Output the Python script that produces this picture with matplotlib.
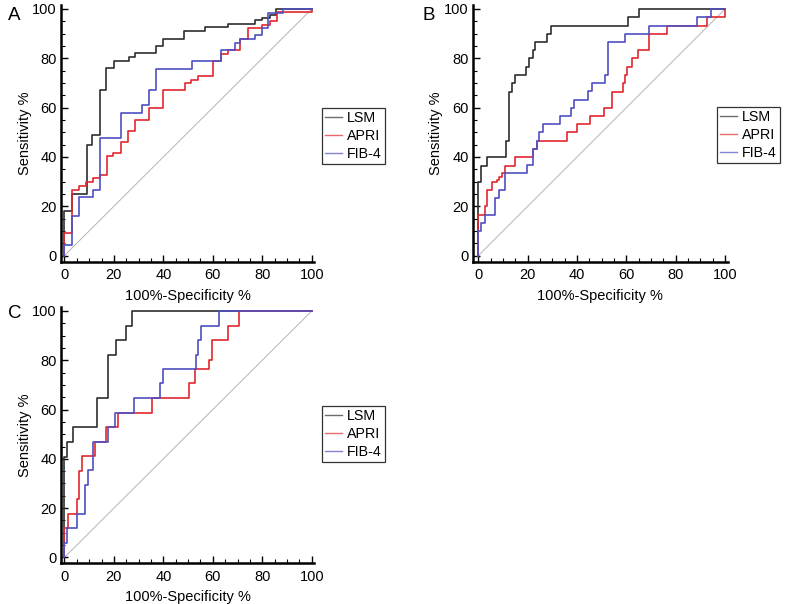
import matplotlib
matplotlib.use("Agg")
import matplotlib.pyplot as plt
from matplotlib.ticker import MultipleLocator

plt.rcParams['font.family'] = ['Liberation Sans', 'DejaVu Sans']

series_names = ["LSM", "APRI", "FIB-4"]
series_colors = ["#2e2e2e", "#e0282e", "#4f4fc2"]
tick_values = [0, 20, 40, 60, 80, 100]
x_label = "100%-Specificity %"
y_label = "Sensitivity %"

# Panel A (fpr, tpr) step points (steps-post)
a_lsm_fpr = [0, 0, 3, 9, 11, 14.5, 17, 20, 26, 28.5, 37, 40, 48.5, 57, 66, 77, 80, 83, 85.5, 100]
a_lsm_tpr = [0, 18, 25, 45, 49, 67, 76, 79, 80.5, 82, 85, 88, 91, 92.5, 94, 95.5, 96.5, 97.5, 100, 100]
a_apri_fpr = [0, 0, 3, 5.7, 8.8, 11.5, 14.4, 17.1, 19.8, 22.8, 25.6, 28.6, 34.2, 40, 48.8, 51, 54, 60.2, 63.2, 66, 71, 74.4, 80, 83, 86, 100]
a_apri_tpr = [0, 9, 26.6, 28.2, 30, 31.4, 32.7, 40.5, 41.8, 46, 50.4, 55, 59.7, 67.2, 70, 71.3, 72.8, 79, 81.8, 83.4, 87.7, 92.2, 93.7, 95.3, 98.6, 100]
a_fib4_fpr = [0, 0, 3, 5.7, 11.5, 14.4, 22.8, 31.3, 34.2, 37, 51.5, 63.2, 69, 71, 77, 79.8, 82.5, 88.5, 100]
a_fib4_tpr = [0, 4.3, 16.2, 23.6, 26.6, 47.6, 58, 61, 67.2, 75.8, 79, 83.4, 86.4, 87.7, 89.5, 92.2, 98.2, 100, 100]

# Panel B
b_lsm_fpr = [0, 0, 1.1, 3.6, 11.1, 12.4, 13.5, 14.9, 19.3, 20.7, 22, 23, 27.7, 29.3, 60.8, 65.3, 100]
b_lsm_tpr = [0, 30, 36.5, 40, 46.5, 66.5, 70, 73.2, 76.6, 80, 83.4, 86.5, 89.7, 93.1, 96.6, 100, 100]
b_apri_fpr = [0, 0, 2.7, 3.6, 5.4, 7.4, 8.5, 9.5, 10.8, 14.9, 22.3, 23.6, 35.8, 39.9, 45.3, 51, 54, 58.5, 59.3, 60.1, 62.2, 64.9, 69.3, 76.4, 92.8, 100]
b_apri_tpr = [0, 16.5, 20, 26.6, 29.7, 30.8, 32, 33.3, 36.5, 40, 43.3, 46.5, 50, 53.2, 56.6, 60, 66.5, 70, 73.3, 76.6, 80, 83.2, 89.7, 93, 96.6, 100]
b_fib4_fpr = [0, 0, 1.1, 2.7, 6.8, 8.4, 10.8, 19.6, 22, 23.6, 24.7, 26.1, 33.1, 37.4, 38.8, 44.3, 45.9, 51.4, 52.7, 59.5, 69.3, 88.5, 94.2, 100]
b_fib4_tpr = [0, 10, 13.3, 16.5, 23.3, 26.6, 33.3, 36.6, 43.3, 46.5, 50, 53.2, 56.6, 60, 63.2, 66.6, 70, 73.2, 86.5, 89.7, 93, 96.6, 100, 100]

# Panel C
c_lsm_fpr = [0, 0, 0.9, 3.4, 13.1, 17.8, 20.9, 24.9, 27.2, 100]
c_lsm_tpr = [0, 40.6, 47, 52.9, 64.7, 82.3, 88.2, 94.1, 100, 100]
c_apri_fpr = [0, 0, 1.6, 5, 5.9, 7, 12.4, 16.8, 21.8, 35.3, 50.5, 52.8, 58.5, 59.8, 66, 70.4, 100]
c_apri_tpr = [0, 11.8, 17.6, 23.5, 35.2, 41.2, 47, 52.9, 58.8, 64.7, 70.6, 76.4, 80, 88.2, 94.1, 100, 100]
c_fib4_fpr = [0, 0, 0.9, 5, 8.4, 9.4, 11.7, 17.8, 20.5, 28.3, 38.7, 40, 53.2, 54.2, 55.1, 62.3, 100]
c_fib4_tpr = [0, 5.9, 11.8, 17.6, 29.4, 35.3, 47, 52.9, 58.8, 64.7, 70.6, 76.4, 82.3, 88.2, 94.1, 100, 100]

panels = [
    ("A", [(a_lsm_fpr, a_lsm_tpr), (a_apri_fpr, a_apri_tpr), (a_fib4_fpr, a_fib4_tpr)]),
    ("B", [(b_lsm_fpr, b_lsm_tpr), (b_apri_fpr, b_apri_tpr), (b_fib4_fpr, b_fib4_tpr)]),
    ("C", [(c_lsm_fpr, c_lsm_tpr), (c_apri_fpr, c_apri_tpr), (c_fib4_fpr, c_fib4_tpr)]),
]

W, H = 788, 604
fig = plt.figure(figsize=(W / 100, H / 100), dpi=100)

# axes boxes in pixels: (left, top, right, bottom), xlim, ylim
boxes = {
    "A": ((61, 5.3, 314.2, 262), (-1.4, 101), (-2.6, 101.5)),
    "B": ((472.7, 5.3, 727.5, 262), (-2.3, 101), (-2.6, 101.5)),
    "C": ((61, 307.3, 314.2, 563.3), (-1.4, 101), (-2.4, 101.5)),
}
legend_pos = {"A": (322, 108), "B": (717, 107), "C": (322, 406)}
letter_pos = {"A": (8, 15), "B": (422, 15), "C": (8, 313)}

for name, curves in panels:
    (l, t, r, b), xl, yl = boxes[name]
    ax = fig.add_axes([l / W, 1 - b / H, (r - l) / W, (b - t) / H])
    ax.plot([0, 100], [0, 100], color="#b4b4b4", lw=0.7, zorder=1)
    handles = []
    for (fx, ty), lab, col in zip(curves, series_names, series_colors):
        h, = ax.plot(fx, ty, drawstyle="steps-post", color=col, lw=1.2, label=lab, zorder=3)
        handles.append(h)
    ax.set_xlim(*xl)
    ax.set_ylim(*yl)
    for s in ("top", "right"):
        ax.spines[s].set_visible(False)
    for s in ("left", "bottom"):
        ax.spines[s].set_linewidth(1.8)
    ax.set_xticks(tick_values)
    ax.set_yticks(tick_values)
    ax.xaxis.set_minor_locator(MultipleLocator(5))
    ax.yaxis.set_minor_locator(MultipleLocator(5))
    ax.tick_params(which="major", direction="in", length=5, width=1.0, labelsize=10.5)
    ax.tick_params(axis="x", which="major", pad=4.5)
    ax.tick_params(axis="y", which="major", pad=3)
    ax.tick_params(which="minor", direction="in", length=3, width=0.8)
    ax.set_xlabel(x_label, fontsize=10.5, labelpad=5)
    ax.set_ylabel(y_label, fontsize=10.5, labelpad=0.5)
    lx, ly = legend_pos[name]
    leg = ax.legend(handles=handles, loc="upper left", bbox_to_anchor=(lx / W, 1 - ly / H),
                    bbox_transform=fig.transFigure, fancybox=False, frameon=True,
                    fontsize=10.3, handlelength=1.2, handletextpad=0.3, labelspacing=0.28,
                    borderpad=0.22, borderaxespad=0)
    leg.get_frame().set_edgecolor("black")
    leg.get_frame().set_linewidth(0.9)
    for lh in leg.get_lines():
        lh.set_linewidth(1.0)
        lh.set_alpha(0.7)
    px, py = letter_pos[name]
    fig.text(px / W, 1 - py / H, name, fontsize=13.5, va="center", ha="left")

fig.savefig("out.png", dpi=100)
